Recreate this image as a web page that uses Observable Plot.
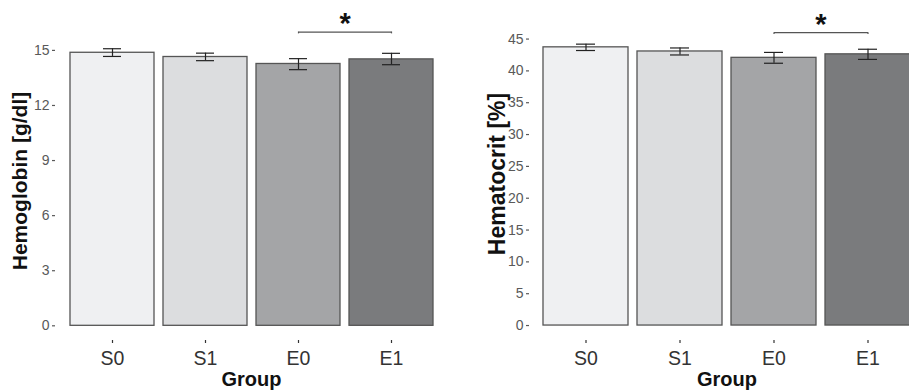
<!DOCTYPE html>
<html>
<head>
<meta charset="utf-8">
<script src="https://cdn.jsdelivr.net/npm/d3@7"></script>
<script src="https://cdn.jsdelivr.net/npm/@observablehq/plot@0.6"></script>
<style>
  html, body { margin: 0; padding: 0; background: #fff; }
  #wrap { display: flex; width: 909px; height: 392px; overflow: hidden; }
  #left { width: 455px; flex: none; }
  #right { width: 454px; flex: none; overflow: hidden; }
  svg { display: block; max-width: none !important; height: 392px !important; }
  g[aria-label="y-axis tick label"], g[aria-label="y-axis tick label"] text { font-size: 14px !important; }
  g[aria-label="x-axis tick label"], g[aria-label="x-axis tick label"] text { font-size: 19.5px !important; }
</style>
</head>
<body>
<div id="wrap"><div id="left"></div><div id="right"></div></div>
<script>
// ---- data ----
const groups = ["S0", "S1", "E0", "E1"];
const hbMean = [14.87, 14.64, 14.26, 14.51];
const hbLow  = [14.67, 14.44, 13.95, 14.22];
const hbHigh = [15.09, 14.85, 14.55, 14.84];
const hbTicks = [0, 3, 6, 9, 12, 15];
const hctMean = [43.7, 43.05, 42.05, 42.6];
const hctLow  = [43.2, 42.5, 41.2, 41.8];
const hctHigh = [44.2, 43.6, 42.9, 43.4];
const hctTicks = [0, 5, 10, 15, 20, 25, 30, 35, 40, 45];
const sigPair = ["E0", "E1"];
const hbSigY = 16.0, hbStarY = 16.45;
const hctSigY = 46.0, hctStarY = 47.3;
const xTitle = "Group";

// ---- styles ----
const fills = ["#eff0f2", "#dcdddf", "#a4a5a7", "#7a7b7d"];
const font = "'Liberation Sans', Arial, Helvetica, sans-serif";

function panel(o) {
  const rows = groups.map((g, i) => ({group: g, mean: o.mean[i], lo: o.low[i], hi: o.high[i]}));
  const sig = [{from: sigPair[0], to: sigPair[1], y: o.sigY}];
  return Plot.plot({
    width: o.width, height: 392,
    marginLeft: o.ml, marginRight: o.mr, marginTop: 15, marginBottom: 52,
    style: {fontFamily: font, background: "white", overflow: "visible"},
    x: {domain: groups, paddingInner: 0.1, paddingOuter: 0.15, label: null},
    y: {domain: o.domain, label: null},
    color: {domain: groups, range: fills},
    marks: [
      Plot.barY(rows, {x: "group", y1: 0, y2: "mean", fill: "group", stroke: "#555", strokeWidth: 1.3}),
      Plot.ruleX(rows, {x: "group", y1: "lo", y2: "hi", stroke: "#222", strokeWidth: 1.2}),
      Plot.tickY(rows, {x: "group", y: "lo", stroke: "#222", strokeWidth: 1.2, insetLeft: 33, insetRight: 33}),
      Plot.tickY(rows, {x: "group", y: "hi", stroke: "#222", strokeWidth: 1.2, insetLeft: 33, insetRight: 33}),
      Plot.link(sig, {x1: "from", x2: "to", y1: "y", y2: "y", stroke: "#555", strokeWidth: 1.2}),
      Plot.ruleX(sigPair, {x: d => d, y1: o.sigY, y2: o.sigY - o.tickLen, stroke: "#555", strokeWidth: 1.2}),
      Plot.text(["*"], {x: () => sigPair[0], y: o.starY, dx: o.step / 2, text: d => d, fontSize: 29, fontWeight: "bold", fill: "#111"}),
      Plot.axisY({ticks: o.ticks, tickSize: 3, tickPadding: 3, fontSize: 14, color: "#595959", label: null, line: true, strokeWidth: 1.2}),
      Plot.axisX({tickSize: 3, tickPadding: 8, fontSize: 19.5, color: "#333", label: null, line: true, strokeWidth: 1.2}),
      Plot.text([o.title], {frameAnchor: "left", textAnchor: "middle", dx: o.titleDx, dy: o.titleDy, rotate: -90, text: d => d, fontSize: o.titleSize, fontWeight: "bold", fill: "#111"}),
      Plot.text([xTitle], {frameAnchor: "bottom", dy: 45, text: d => d, fontSize: 20, fontWeight: "bold", fill: "#111"})
    ]
  });
}

document.getElementById("left").append(panel({
  width: 455, ml: 55, mr: 8, domain: [-0.8, 16.9], ticks: hbTicks,
  mean: hbMean, low: hbLow, high: hbHigh, sigY: hbSigY, starY: hbStarY, tickLen: 0.1,
  step: 93.3, title: "Hemoglobin [g/dl]", titleDx: -35, titleDy: 3, titleSize: 21
}));
document.getElementById("right").append(panel({
  width: 480, ml: 74, mr: 11, domain: [-2.35, 48.7], ticks: hctTicks,
  mean: hctMean, low: hctLow, high: hctHigh, sigY: hctSigY, starY: hctStarY, tickLen: 0.3,
  step: 94, title: "Hematocrit [%]", titleDx: -32, titleDy: -4, titleSize: 23
}));
</script>
</body>
</html>
